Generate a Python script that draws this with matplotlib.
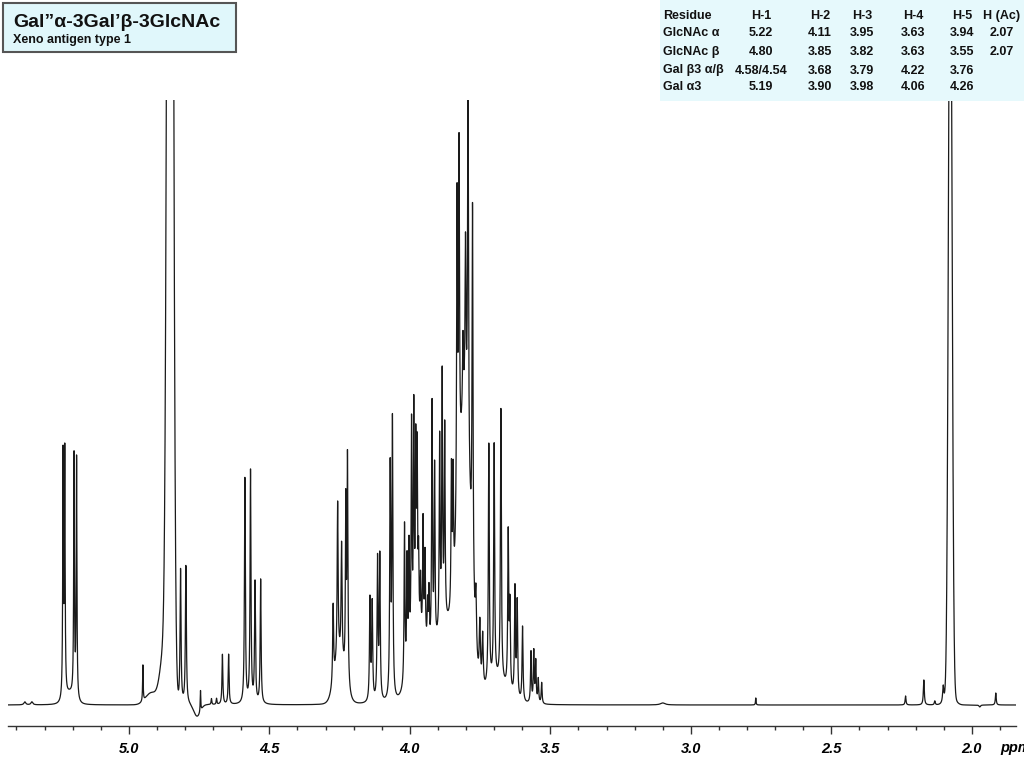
"""
1H NMR spectrum of Gal''a-3Gal'b-3GlcNAc (Xeno antigen type 1)
"""

import matplotlib
matplotlib.use('Agg')
import matplotlib.pyplot as plt
import numpy as np
from matplotlib.patches import Rectangle

# sharp resonances: shift (ppm), apparent height, half width (ppm)
line_ppm = [5.370, 5.345,
            5.234, 5.228, 5.195, 5.186,
            4.950,
            4.816, 4.797, 4.745, 4.706, 4.688, 4.667, 4.645,
            4.587, 4.567, 4.551, 4.531,
            4.273, 4.257, 4.243, 4.228, 4.222,
            4.142, 4.134, 4.115, 4.107, 4.070, 4.062,
            4.019, 4.010, 4.003, 3.994, 3.986, 3.979, 3.974, 3.969, 3.962,
            3.953, 3.946, 3.937, 3.932, 3.921, 3.912,
            3.894, 3.885, 3.876, 3.852, 3.846,
            3.832, 3.825, 3.811, 3.802, 3.793, 3.777,
            3.765, 3.751, 3.741, 3.719, 3.700, 3.676, 3.650, 3.644,
            3.626, 3.618, 3.599, 3.569, 3.559, 3.552, 3.543, 3.531,
            3.100, 2.769, 2.236, 2.171, 2.132, 2.102, 1.972, 1.915]
line_height = [3, 3,
               245, 247, 247, 243,
               40,
               135, 138, 14, 6, 6, 50, 50,
               225, 232, 120, 124,
               98, 199, 156, 190, 242,
               102, 97, 140, 143, 229, 276,
               173, 134, 146, 267, 279, 237, 232, 131, 114,
               176, 141, 91, 104, 293, 229,
               257, 320, 269, 227, 221,
               489, 540, 349, 444, 602, 490,
               104, 77, 64, 256, 256, 292, 166, 91,
               112, 98, 76, 51, 51, 41, 24, 21,
               2, 7, 9, 25, 4, 20, -2, 12]
line_hwhm = [0.004, 0.004,
             0.0015, 0.0015, 0.0015, 0.0015,
             0.0012,
             0.002, 0.002, 0.0012, 0.0015, 0.0015, 0.0018, 0.0018,
             0.0019, 0.0019, 0.0019, 0.0019,
             0.002, 0.002, 0.002, 0.0016, 0.002,
             0.002, 0.002, 0.002, 0.002, 0.002, 0.002,
             0.0018, 0.0018, 0.0018, 0.0018, 0.0018, 0.0018, 0.0018, 0.0018, 0.0018,
             0.0018, 0.0018, 0.0018, 0.0018, 0.0018, 0.0018,
             0.0018, 0.0018, 0.0018, 0.0018, 0.0018,
             0.002, 0.002, 0.002, 0.002, 0.002, 0.002,
             0.0025, 0.0025, 0.0025, 0.002, 0.002, 0.002, 0.002, 0.002,
             0.002, 0.002, 0.002, 0.0018, 0.0018, 0.0018, 0.0018, 0.0018,
             0.01, 0.0012, 0.0018, 0.002, 0.002, 0.0025, 0.003, 0.0018]

# broad components (HOD, acetyl, overlapping envelopes): shift, height, sigma
broad_ppm = [5.210, 4.853, 4.872, 4.920, 4.757, 4.250, 3.970, 3.870, 3.805, 3.690, 2.077, 2.077]
broad_height = [10, 2000, 60, 12, -12, 45, 55, 75, 260, 22, 838, 12]
broad_sigma = [0.015, 0.0085, 0.015, 0.02, 0.012, 0.018, 0.03, 0.04, 0.021, 0.035, 0.0062, 0.015]

major_ticks = [5.0, 4.5, 4.0, 3.5, 3.0, 2.5, 2.0]
tick_labels = ['5.0', '4.5', '4.0', '3.5', '3.0', '2.5', '2.0']

title = 'Gal\u201d\u03b1-3Gal\u2019\u03b2-3GlcNAc'
subtitle = 'Xeno antigen type 1'

table_header = ['Residue', 'H-1', 'H-2', 'H-3', 'H-4', 'H-5', 'H (Ac)']
table_rows = [
    ['GlcNAc \u03b1', '5.22', '4.11', '3.95', '3.63', '3.94', '2.07'],
    ['GlcNAc \u03b2', '4.80', '3.85', '3.82', '3.63', '3.55', '2.07'],
    ['Gal \u03b23 \u03b1/\u03b2', '4.58/4.54', '3.68', '3.79', '4.22', '3.76', ''],
    ['Gal \u03b13', '5.19', '3.90', '3.98', '4.06', '4.26', ''],
]


def build_spectrum(x):
    """Sum of gaussian envelopes and lorentzian lines"""
    def envelope(pos):
        total = np.zeros_like(pos, dtype=float)
        for c, h, s in zip(broad_ppm, broad_height, broad_sigma):
            total += h * np.exp(-0.5 * ((pos - c) / s) ** 2)
        return total

    y = envelope(x)
    for c, h, w in zip(line_ppm, line_height, line_hwhm):
        amp = h - envelope(np.array([c]))[0] if h > 0 else h
        amp = max(amp, 0.15 * h) if h > 0 else amp
        y += amp / (1 + ((x - c) / w) ** 2)
    return y


plt.rcParams['font.family'] = ['Liberation Sans', 'DejaVu Sans']

fig = plt.figure(figsize=(10.24, 7.68), dpi=100)
W, H = 1024.0, 768.0
ax = fig.add_axes([8 / W, 1 - 726 / H, 1008 / W, 626 / H])

ppm = np.linspace(5.43, 1.843, 40000)
ax.plot(ppm, build_spectrum(ppm), color='#1a1a1a', lw=0.9)

ax.set_xlim(5.43, 1.843)
ax.set_ylim(-21, 605)

for side in ('left', 'right', 'top'):
    ax.spines[side].set_visible(False)
ax.spines['bottom'].set_linewidth(1.0)
ax.spines['bottom'].set_color('#333333')
ax.set_yticks([])

ax.set_xticks(major_ticks)
ax.set_xticklabels(tick_labels, fontsize=10.5, fontweight='bold', fontstyle='italic')
ax.set_xticks(np.arange(1.9, 5.45, 0.1), minor=True)
ax.tick_params(axis='x', which='major', length=5.8, width=1.0, color='#333333', pad=6)
ax.tick_params(axis='x', which='minor', length=3.0, width=1.0, color='#333333')

# axis unit, cut by the right edge as in the original
fig.text(1000 / W, 1 - 748 / H, 'ppm', fontsize=10.5, fontweight='bold',
         fontstyle='italic', va='center', ha='left')

# title box
fig.patches.append(Rectangle((3 / W, 1 - 52 / H), 233 / W, 49 / H, transform=fig.transFigure,
                             facecolor='#e0f7fb', edgecolor='#555555', lw=1.5))
fig.text(13 / W, 1 - 26.7 / H, title, fontsize=14, fontweight='bold', va='baseline',
         color='#111111')
fig.text(13 / W, 1 - 43.5 / H, subtitle, fontsize=9, fontweight='bold', va='baseline',
         color='#111111')

# shift table
fig.patches.append(Rectangle((660 / W, 1 - 101 / H), 364 / W, 101 / H, transform=fig.transFigure,
                             facecolor='#e6f9fc', edgecolor='none'))
col_x = [663, 761, 820, 862, 913, 962, 1002]
row_y = [16, 33.5, 52, 70.5, 87.5]
for r, row in enumerate([table_header] + table_rows):
    for c, cell in enumerate(row):
        fig.text(col_x[c] / W, 1 - row_y[r] / H, cell, fontsize=9, fontweight='bold',
                 ha='left' if c == 0 else 'center', va='center', color='#111111')

fig.savefig('out.png', dpi=100)
